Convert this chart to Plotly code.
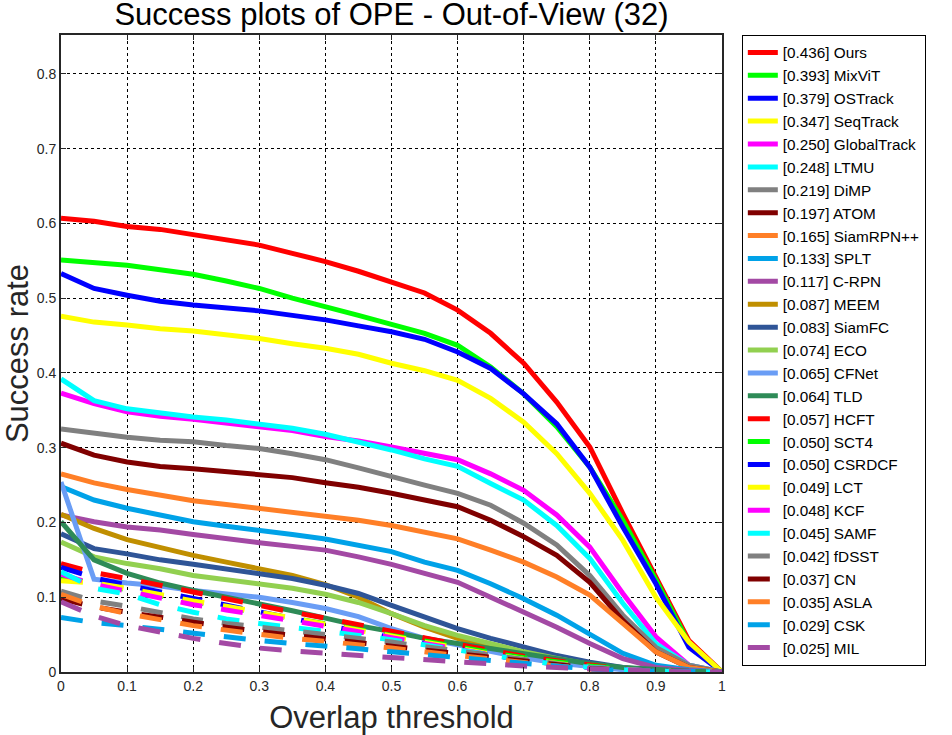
import plotly.graph_objects as go

thresholds = [0, 0.05, 0.1, 0.15, 0.2, 0.25, 0.3, 0.35, 0.4, 0.45, 0.5,
              0.55, 0.6, 0.65, 0.7, 0.75, 0.8, 0.85, 0.9, 0.95, 1.0]

# solid trackers
ours = [0.607, 0.603, 0.596, 0.592, 0.585, 0.578, 0.571, 0.560, 0.549, 0.536, 0.522,
        0.507, 0.484, 0.453, 0.413, 0.361, 0.301, 0.212, 0.127, 0.042, 0]
mixvit = [0.551, 0.548, 0.544, 0.538, 0.532, 0.523, 0.513, 0.500, 0.489, 0.477, 0.465,
          0.453, 0.437, 0.408, 0.372, 0.328, 0.274, 0.203, 0.123, 0.038, 0]
ostrack = [0.533, 0.513, 0.504, 0.496, 0.491, 0.487, 0.483, 0.477, 0.471, 0.463, 0.455,
           0.445, 0.428, 0.406, 0.372, 0.332, 0.274, 0.194, 0.118, 0.033, 0]
seqtrack = [0.476, 0.468, 0.464, 0.459, 0.456, 0.451, 0.446, 0.439, 0.433, 0.425, 0.413,
            0.403, 0.390, 0.366, 0.334, 0.292, 0.239, 0.176, 0.100, 0.040, 0]
globaltrack = [0.373, 0.359, 0.348, 0.342, 0.338, 0.333, 0.329, 0.323, 0.315, 0.309, 0.301,
               0.292, 0.284, 0.265, 0.243, 0.210, 0.167, 0.105, 0.047, 0.009, 0]
ltmu = [0.392, 0.363, 0.352, 0.346, 0.341, 0.337, 0.332, 0.326, 0.318, 0.308, 0.297,
        0.285, 0.275, 0.252, 0.230, 0.196, 0.152, 0.092, 0.038, 0.009, 0]
dimp = [0.325, 0.319, 0.314, 0.310, 0.308, 0.303, 0.299, 0.292, 0.284, 0.273, 0.261,
        0.250, 0.239, 0.223, 0.199, 0.170, 0.129, 0.076, 0.033, 0.009, 0]
atom = [0.306, 0.290, 0.281, 0.275, 0.272, 0.268, 0.264, 0.260, 0.253, 0.247, 0.239,
        0.230, 0.221, 0.203, 0.181, 0.156, 0.120, 0.069, 0.027, 0.006, 0]
siamrpnpp = [0.265, 0.253, 0.244, 0.236, 0.229, 0.224, 0.219, 0.213, 0.208, 0.203, 0.196,
             0.187, 0.178, 0.163, 0.147, 0.127, 0.103, 0.065, 0.027, 0.006, 0]
splt = [0.248, 0.230, 0.219, 0.210, 0.201, 0.195, 0.190, 0.184, 0.178, 0.170, 0.161,
        0.147, 0.136, 0.118, 0.098, 0.076, 0.051, 0.025, 0.009, 0.003, 0]
crpn = [0.210, 0.201, 0.194, 0.190, 0.184, 0.178, 0.173, 0.168, 0.163, 0.154, 0.144,
        0.132, 0.120, 0.100, 0.080, 0.060, 0.038, 0.018, 0.006, 0.002, 0]
meem = [0.211, 0.192, 0.177, 0.166, 0.156, 0.147, 0.138, 0.129, 0.117, 0.100, 0.078,
        0.060, 0.045, 0.033, 0.022, 0.014, 0.008, 0.004, 0.001, 0, 0]
siamfc = [0.185, 0.165, 0.158, 0.150, 0.144, 0.138, 0.132, 0.125, 0.116, 0.105, 0.089,
          0.074, 0.058, 0.045, 0.033, 0.022, 0.013, 0.006, 0.002, 0, 0]
eco = [0.174, 0.154, 0.145, 0.138, 0.129, 0.123, 0.117, 0.112, 0.104, 0.093, 0.078,
       0.062, 0.049, 0.038, 0.027, 0.018, 0.010, 0.005, 0.002, 0, 0]
cfnet = [0.254, 0.124, 0.119, 0.115, 0.109, 0.105, 0.100, 0.093, 0.085, 0.074, 0.058,
         0.045, 0.036, 0.027, 0.019, 0.012, 0.007, 0.003, 0.001, 0, 0]
tld = [0.201, 0.150, 0.132, 0.119, 0.109, 0.100, 0.092, 0.082, 0.072, 0.062, 0.054,
       0.045, 0.038, 0.031, 0.024, 0.017, 0.011, 0.006, 0.003, 0.001, 0]

# dashed trackers
hcft = [0.145, 0.133, 0.125, 0.116, 0.106, 0.097, 0.088, 0.080, 0.072, 0.063, 0.054,
        0.045, 0.037, 0.029, 0.021, 0.015, 0.009, 0.004, 0.001, 0, 0]
sct4 = [0.127, 0.118, 0.110, 0.102, 0.094, 0.087, 0.079, 0.072, 0.065, 0.057, 0.049,
        0.041, 0.034, 0.026, 0.019, 0.013, 0.008, 0.004, 0.001, 0, 0]
csrdcf = [0.140, 0.126, 0.116, 0.107, 0.099, 0.090, 0.081, 0.072, 0.063, 0.054, 0.046,
          0.038, 0.030, 0.023, 0.016, 0.011, 0.006, 0.003, 0.001, 0, 0]
lct = [0.122, 0.119, 0.112, 0.103, 0.095, 0.088, 0.080, 0.072, 0.064, 0.055, 0.047,
       0.039, 0.031, 0.024, 0.017, 0.011, 0.006, 0.003, 0.001, 0, 0]
kcf = [0.131, 0.117, 0.108, 0.099, 0.090, 0.083, 0.076, 0.069, 0.062, 0.054, 0.046,
       0.038, 0.030, 0.023, 0.016, 0.010, 0.006, 0.003, 0.001, 0, 0]
samf = [0.134, 0.112, 0.104, 0.090, 0.080, 0.071, 0.065, 0.060, 0.055, 0.049, 0.043,
        0.036, 0.029, 0.022, 0.016, 0.010, 0.006, 0.003, 0.001, 0, 0]
fdsst = [0.108, 0.095, 0.088, 0.080, 0.071, 0.065, 0.060, 0.056, 0.051, 0.046, 0.040,
         0.034, 0.028, 0.022, 0.016, 0.011, 0.006, 0.003, 0.001, 0, 0]
cn = [0.098, 0.087, 0.080, 0.073, 0.066, 0.060, 0.054, 0.049, 0.045, 0.040, 0.035,
      0.030, 0.025, 0.019, 0.014, 0.009, 0.005, 0.002, 0.001, 0, 0]
asla = [0.104, 0.088, 0.078, 0.070, 0.062, 0.056, 0.050, 0.045, 0.041, 0.037, 0.032,
        0.027, 0.022, 0.017, 0.012, 0.008, 0.004, 0.002, 0.001, 0, 0]
csk = [0.073, 0.066, 0.062, 0.057, 0.051, 0.046, 0.042, 0.038, 0.035, 0.031, 0.027,
       0.023, 0.019, 0.015, 0.011, 0.007, 0.004, 0.002, 0.001, 0, 0]
mil = [0.094, 0.075, 0.062, 0.053, 0.045, 0.038, 0.032, 0.028, 0.025, 0.022, 0.019,
       0.016, 0.013, 0.010, 0.008, 0.006, 0.004, 0.002, 0.001, 0, 0]

names = ["Ours", "MixViT", "OSTrack", "SeqTrack", "GlobalTrack", "LTMU", "DiMP", "ATOM",
         "SiamRPN++", "SPLT", "C-RPN", "MEEM", "SiamFC", "ECO", "CFNet", "TLD",
         "HCFT", "SCT4", "CSRDCF", "LCT", "KCF", "SAMF", "fDSST", "CN", "ASLA", "CSK", "MIL"]
aucs = ["0.436", "0.393", "0.379", "0.347", "0.250", "0.248", "0.219", "0.197",
        "0.165", "0.133", "0.117", "0.087", "0.083", "0.074", "0.065", "0.064",
        "0.057", "0.050", "0.050", "0.049", "0.048", "0.045", "0.042", "0.037",
        "0.035", "0.029", "0.025"]
series = [ours, mixvit, ostrack, seqtrack, globaltrack, ltmu, dimp, atom, siamrpnpp, splt,
          crpn, meem, siamfc, eco, cfnet, tld,
          hcft, sct4, csrdcf, lct, kcf, samf, fdsst, cn, asla, csk, mil]

base_colors = ["#FF0000", "#00FF00", "#0000FF", "#FFFF00", "#FF00FF", "#00FFFF",
               "#808080", "#800000", "#FF7F27", "#00A2E8", "#A349A4"]
colors = base_colors + ["#C08F00", "#2F5597", "#92D050", "#6A9DF5", "#2E8B57"] + base_colors

fig = go.Figure()
for i, (name, auc, ys) in enumerate(zip(names, aucs, series)):
    dashed = i >= 16
    fig.add_trace(go.Scatter(
        x=thresholds, y=ys, mode="lines",
        name="[%s] %s" % (auc, name),
        line=dict(color=colors[i], width=5, dash="22px,19px" if dashed else "solid"),
    ))

font_family = "Liberation Sans, Arial"
axis_font = dict(family=font_family, size=14, color="#262626")
title_font = dict(family=font_family, size=31, color="#262626")
fig.update_xaxes(
    range=[0, 1], tickvals=[0, 0.1, 0.2, 0.3, 0.4, 0.5, 0.6, 0.7, 0.8, 0.9, 1],
    ticktext=["0", "0.1", "0.2", "0.3", "0.4", "0.5", "0.6", "0.7", "0.8", "0.9", "1"],
    showgrid=True, gridcolor="black", griddash="dot", gridwidth=1,
    showline=True, linecolor="#262626", linewidth=2, mirror="ticks",
    ticks="inside", ticklen=5, tickcolor="#262626", zeroline=False,
    tickfont=axis_font, automargin=False,
    title=dict(text="Overlap threshold", font=title_font, standoff=15),
)
fig.update_yaxes(
    range=[0, 0.852], tickvals=[0, 0.1, 0.2, 0.3, 0.4, 0.5, 0.6, 0.7, 0.8],
    ticktext=["0", "0.1", "0.2", "0.3", "0.4", "0.5", "0.6", "0.7", "0.8"],
    showgrid=True, gridcolor="black", griddash="dot", gridwidth=1,
    showline=True, linecolor="#262626", linewidth=2, mirror="ticks",
    ticks="inside", ticklen=5, tickcolor="#262626", zeroline=False,
    tickfont=axis_font, automargin=False,
    title=dict(text="Success rate", font=title_font, standoff=13),
)

fig.update_layout(
    width=952, height=735,
    margin=dict(l=61, r=230, t=35, b=63, autoexpand=False),
    paper_bgcolor="white", plot_bgcolor="white",
    title=dict(text="Success plots of OPE - Out-of-View (32)", x=(61 + 330.5) / 952, xanchor="center",
               y=1, yanchor="top", pad=dict(t=3),
               font=dict(family=font_family, size=31, color="black")),
    legend=dict(x=1.03, y=1, xanchor="left", yanchor="top", bgcolor="white",
                bordercolor="black", borderwidth=1, entrywidth=160,
                font=dict(family=font_family, size=15.3, color="black"),
                tracegroupgap=0),
    showlegend=True,
)

# drop the browser's default body margin so the figure sits at the page corner
fig.write_html("out.html", config={"displayModeBar": False},
               post_script="document.body.style.margin='0';")
